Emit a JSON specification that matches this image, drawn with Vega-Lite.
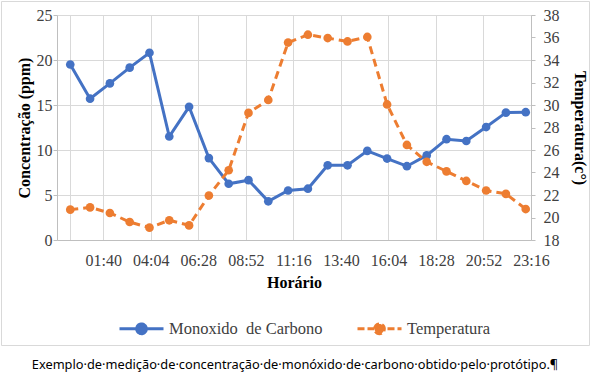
{
  "$schema": "https://vega.github.io/schema/vega-lite/v6.json",
  "width": 588,
  "height": 344,
  "padding": {"left": 1, "top": 1, "right": 3, "bottom": 0},
  "autosize": {"type": "pad"},
  "background": "white",
  "config": {
    "view": {"stroke": "#D9D9D9", "strokeWidth": 1},
    "font": "Liberation Serif",
    "axis": {"labelFont": "Liberation Serif", "titleFont": "Liberation Serif"},
    "legend": {"labelFont": "Liberation Serif"}
  },
  "title": {
    "text": "Exemplo·de·medição·de·concentração·de·monóxido·de·carbono·obtido·pelo·protótipo.¶",
    "orient": "bottom",
    "anchor": "middle",
    "font": "Noto Sans",
    "fontSize": 12.8,
    "fontWeight": "normal",
    "color": "#000000",
    "offset": 14
  },
  "data": {
    "values": [
      {"hora": 0, "co": 19.5, "temp": 20.7},
      {"hora": 1, "co": 15.7, "temp": 20.9},
      {"hora": 2, "co": 17.4, "temp": 20.4},
      {"hora": 3, "co": 19.15, "temp": 19.6},
      {"hora": 4, "co": 20.8, "temp": 19.1},
      {"hora": 5, "co": 11.5, "temp": 19.75},
      {"hora": 6, "co": 14.8, "temp": 19.3},
      {"hora": 7, "co": 9.1, "temp": 21.95},
      {"hora": 8, "co": 6.25, "temp": 24.2},
      {"hora": 9, "co": 6.65, "temp": 29.3},
      {"hora": 10, "co": 4.3, "temp": 30.45},
      {"hora": 11, "co": 5.5, "temp": 35.55},
      {"hora": 12, "co": 5.7, "temp": 36.25},
      {"hora": 13, "co": 8.3, "temp": 35.95},
      {"hora": 14, "co": 8.3, "temp": 35.65},
      {"hora": 15, "co": 9.9, "temp": 36.05},
      {"hora": 16, "co": 9.05, "temp": 30.05},
      {"hora": 17, "co": 8.2, "temp": 26.45},
      {"hora": 18, "co": 9.4, "temp": 24.95},
      {"hora": 19, "co": 11.2, "temp": 24.1},
      {"hora": 20, "co": 11.0, "temp": 23.25},
      {"hora": 21, "co": 12.55, "temp": 22.4},
      {"hora": 22, "co": 14.15, "temp": 22.1},
      {"hora": 23, "co": 14.2, "temp": 20.75}
    ]
  },
  "encoding": {
    "x": {
      "field": "hora",
      "type": "quantitative",
      "scale": {"domain": [-0.67, 23.2667], "range": [56, 530], "nice": false, "zero": false},
      "axis": {
        "title": "Horário",
        "titleFont": "Liberation Serif",
        "titleFontSize": 16,
        "titleFontWeight": "bold",
        "titleColor": "#000000",
        "titlePadding": 6,
        "values": [0, 1.6667, 4.0667, 6.4667, 8.8667, 11.2667, 13.6667, 16.0667, 18.4667, 20.8667, 23.2667],
        "labelExpr": "datum.value < 0.5 ? '' : pad(toString(floor(datum.value + 0.001)), 2, '0', 'left') + ':' + pad(toString(round((datum.value - floor(datum.value + 0.001)) * 60)), 2, '0', 'left')",
        "labelFont": "Liberation Serif",
        "labelFontSize": 16,
        "labelColor": "#404040",
        "labelPadding": 237,
        "labelFlush": false,
        "labelOverlap": false,
        "grid": false,
        "domainColor": "#BFBFBF",
        "ticks": true,
        "tickSize": -225,
        "tickColor": "#D9D9D9",
        "tickWidth": 1,
        "offset": -105
      }
    }
  },
  "layer": [
    {
      "mark": {"type": "line", "strokeWidth": 3, "point": {"filled": true, "size": 75}},
      "encoding": {
        "y": {
          "field": "co",
          "type": "quantitative",
          "scale": {"domain": [0, 25], "range": [239, 14], "nice": false, "zero": false},
          "axis": {
            "orient": "left",
            "title": "Concentração (ppm)",
            "titleFont": "Liberation Serif",
            "titleFontSize": 16,
            "titleFontWeight": "bold",
            "titleColor": "#000000",
            "titlePadding": 4,
            "values": [0, 5, 10, 15, 20, 25],
            "labelFont": "Liberation Serif",
            "labelFontSize": 16,
            "labelColor": "#404040",
            "labelPadding": 1,
            "labelOverlap": false,
            "grid": true,
            "gridColor": "#D9D9D9",
            "domainColor": "#BFBFBF",
            "tickColor": "#BFBFBF",
            "tickSize": 4,
            "offset": -56
          }
        },
        "color": {
          "datum": "Monoxido\u00a0 de Carbono",
          "scale": {"domain": ["Monoxido\u00a0 de Carbono", "Temperatura"], "range": ["#4472C4", "#ED7D31"]},
          "legend": {
            "orient": "none",
            "legendX": 117,
            "legendY": 304,
            "direction": "horizontal",
            "title": null,
            "symbolType": "M-1,0H1M-0.22,0A0.22,0.22,0,1,1,0.22,0A0.22,0.22,0,1,1,-0.22,0Z",
            "symbolSize": 1936,
            "symbolStrokeWidth": 3,
            "labelFontSize": 16.5,
            "labelFont": "Liberation Serif",
            "labelColor": "#404040",
            "columnPadding": 28,
            "labelOffset": 4,
            "padding": 0,
            "encode": {
              "symbols": {
                "update": {
                  "fill": {"scale": "color", "field": "value"},
                  "stroke": {"scale": "color", "field": "value"},
                  "strokeDash": {"signal": "datum.value === 'Temperatura' ? [7, 3] : [1, 0]"}
                }
              }
            }
          }
        }
      }
    },
    {
      "mark": {"type": "line", "strokeWidth": 3, "strokeDash": [8, 5], "point": {"filled": true, "size": 75}},
      "encoding": {
        "y": {
          "field": "temp",
          "type": "quantitative",
          "scale": {"domain": [18, 38], "range": [239, 14], "nice": false, "zero": false},
          "axis": {
            "orient": "right",
            "title": "Temperatura(c°)",
            "titleFont": "Liberation Serif",
            "titleFontSize": 16,
            "titleFontWeight": "bold",
            "titleColor": "#000000",
            "titlePadding": 12,
            "values": [18, 20, 22, 24, 26, 28, 30, 32, 34, 36, 38],
            "labelFont": "Liberation Serif",
            "labelFontSize": 16,
            "labelColor": "#404040",
            "labelPadding": 8,
            "labelOverlap": false,
            "grid": false,
            "domainColor": "#BFBFBF",
            "tickColor": "#BFBFBF",
            "tickSize": 4,
            "offset": -58
          }
        },
        "color": {"datum": "Temperatura"}
      }
    }
  ],
  "resolve": {"scale": {"y": "independent"}}
}
